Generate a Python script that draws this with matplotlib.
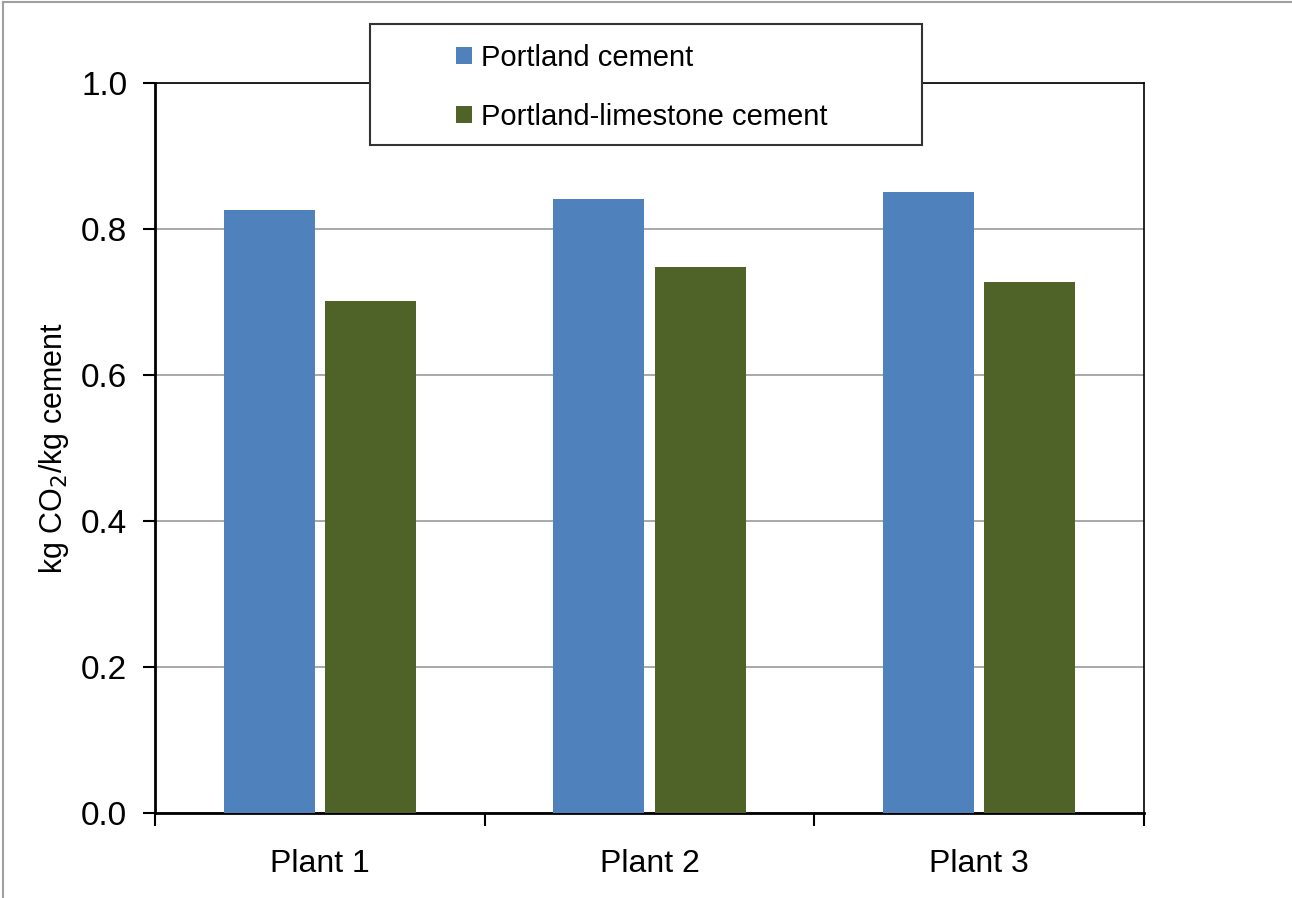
import matplotlib
matplotlib.use("Agg")
import matplotlib.pyplot as plt
from matplotlib.patches import Rectangle
from matplotlib.lines import Line2D
import numpy as np

plt.rcParams['font.family'] = ['Liberation Sans', 'DejaVu Sans']

categories = ["Plant 1", "Plant 2", "Plant 3"]
portland = [0.826, 0.841, 0.851]
plc = [0.702, 0.748, 0.728]
series_names = ["Portland cement", "Portland-limestone cement"]
colors = ["#4F81BD", "#4F6228"]
yticks = [0.0, 0.2, 0.4, 0.6, 0.8, 1.0]

W, H = 1292, 898
fig = plt.figure(figsize=(W/100, H/100), dpi=100)
ax = fig.add_axes([155/W, 1-813/H, (1144-155)/W, (813-83)/H])

x = np.arange(len(categories))
bw = 0.276
off = 0.154
b1 = ax.bar(x - off, portland, bw, color=colors[0], label=series_names[0], zorder=3)
b2 = ax.bar(x + off, plc, bw, color=colors[1], label=series_names[1], zorder=3)

ax.set_xlim(-0.5, 2.5)
ax.set_ylim(0, 1.0)
ax.set_yticks(yticks)
ax.set_yticklabels([f"{v:.1f}" for v in yticks], fontsize=24)
ax.set_xticks(x)
ax.set_xticklabels(categories, fontsize=23)
ax.tick_params(axis='x', length=0, pad=26)
ax.set_xticks([-0.5, 0.5, 1.5, 2.5], minor=True)
ax.tick_params(axis='x', which='minor', length=9, width=1.5, direction='out')
ax.tick_params(axis='y', length=9, width=1.5, direction='out', pad=11)
ax.yaxis.grid(True, color='#999999', linewidth=1.2, zorder=0)
for s in ['left', 'bottom']:
    ax.spines[s].set_linewidth(2)
for s in ['top', 'right']:
    ax.spines[s].set_linewidth(1.2)
ax.set_ylabel("kg CO$_2$/kg cement", fontsize=22, labelpad=7)

# legend box
fig.patches.append(Rectangle((370/W, 1-145/H), (922-370)/W, (145-24)/H,
                             transform=fig.transFigure, facecolor='white',
                             edgecolor='#333333', linewidth=1.5, zorder=4))
leg = fig.legend(handles=[b1, b2], labels=series_names, loc='upper left',
                 bbox_to_anchor=(456/W, 1-44/H), fontsize=21, frameon=False,
                 borderpad=0, labelspacing=1.05, handlelength=0.55,
                 handleheight=0.55, handletextpad=0.3, borderaxespad=0)
leg.set_zorder(6)

# outer chart-area frame (left and top edges visible)
fig.lines.append(Line2D([2.5/W, 2.5/W], [0, 1-1.5/H], transform=fig.transFigure,
                        color='#A0A0A0', linewidth=1.5))
fig.lines.append(Line2D([2.5/W, 1], [1-1.5/H, 1-1.5/H], transform=fig.transFigure,
                        color='#A0A0A0', linewidth=1.5))

fig.savefig("out.png", dpi=100, facecolor='white')
